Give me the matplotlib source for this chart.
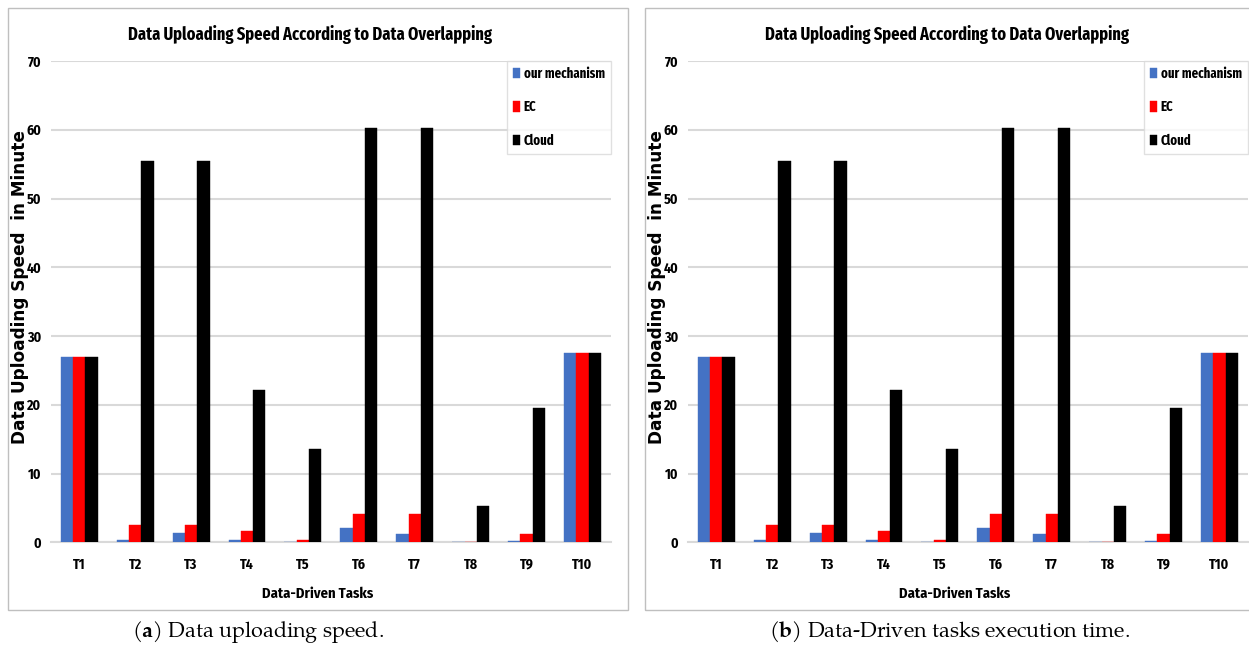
import matplotlib
matplotlib.use("Agg")
import matplotlib.pyplot as plt
import numpy as np
from matplotlib.patches import Rectangle

NARROW = ['Fira Sans Condensed', 'Carlito', 'DejaVu Sans']
XNARROW = ['Fira Sans Extra Condensed', 'Fira Sans Condensed', 'DejaVu Sans']
SERIF = ['TeX Gyre Pagella', 'Liberation Serif', 'DejaVu Serif']

plt.rcParams['mathtext.fontset'] = 'custom'
plt.rcParams['mathtext.rm'] = 'TeX Gyre Pagella'
plt.rcParams['mathtext.bf'] = 'TeX Gyre Pagella:bold'

tasks = ["T1", "T2", "T3", "T4", "T5", "T6", "T7", "T8", "T9", "T10"]
ours = [27.0, 0.3, 1.3, 0.4, 0.1, 2.1, 1.2, 0.05, 0.15, 27.6]
ec = [27.0, 2.5, 2.5, 1.7, 0.4, 4.1, 4.1, 0.05, 1.2, 27.6]
cloud = [27.0, 55.5, 55.5, 22.2, 13.6, 60.2, 60.2, 5.3, 19.5, 27.6]
series_names = ["our mechanism", "EC", "Cloud"]
colors = ["#4472C4", "#FF0000", "#000000"]
yticks = [0, 10, 20, 30, 40, 50, 60, 70]
title = "Data Uploading Speed According to Data Overlapping"
ylabel = "Data Uploading Speed  in Minute"
xlabel = "Data-Driven Tasks"
captions = [r"($\mathbf{a}$) Data uploading speed.",
            r"($\mathbf{b}$) Data-Driven tasks execution time."]
caption_x = [258, 950]

W, H = 1249, 653
fig = plt.figure(figsize=(W / 100, H / 100), dpi=100)

def px_axes(x0, y0, x1, y1):
    return fig.add_axes([x0 / W, 1 - y1 / H, (x1 - x0) / W, (y1 - y0) / H])

offsets = [0, 637]
for k, off in enumerate(offsets):
    fig.add_artist(Rectangle(((8 + off) / W, 1 - 610 / H), 620 / W, 602 / H,
                             transform=fig.transFigure, fill=False,
                             edgecolor="#bfbfbf", linewidth=1.0))
    ax = px_axes(51.3 + off, 61, 610.5 + off, 542.3)
    x = np.arange(len(tasks))
    w = 0.22
    data = [ours, ec, cloud]
    for i, (vals, c, nm) in enumerate(zip(data, colors, series_names)):
        ax.bar(x + (i - 1) * w, vals, width=w, color=c, label=nm,
               edgecolor=c, linewidth=0.3, zorder=3)
    ax.set_xlim(-0.5, len(tasks) - 0.5)
    ax.set_ylim(0, 70)
    ax.set_yticks(yticks)
    ax.set_xticks(x)
    ax.set_xticklabels(tasks)
    ax.grid(axis='y', color="#d9d9d9", linewidth=1.5, zorder=0)
    ax.set_axisbelow(True)
    for s in ["top", "right", "left"]:
        ax.spines[s].set_visible(False)
    ax.spines["bottom"].set_color("#d9d9d9")
    ax.spines["bottom"].set_linewidth(1.5)
    ax.tick_params(axis='both', length=0)
    ax.tick_params(axis='y', pad=7)
    ax.tick_params(axis='x', pad=11)
    for lab in ax.get_xticklabels() + ax.get_yticklabels():
        lab.set_family(NARROW)
        lab.set_fontweight('bold')
        lab.set_fontsize(10)
    fig.text((318 + off) / W, 1 - 594 / H, xlabel, ha='center', va='center',
             family=NARROW, fontweight='bold', fontsize=10.5)
    fig.text((20 + off) / W, 1 - 287.5 / H, ylabel, rotation=90,
             ha='center', va='center', family=['DejaVu Sans'],
             fontweight='bold', fontsize=12.2)
    fig.text((310.5 + off) / W, 1 - 35 / H, title, ha='center', va='center',
             family=XNARROW, fontweight='bold', fontsize=12.8)
    leg = ax.legend(loc='upper right', bbox_to_anchor=(1.0, 1.0), borderaxespad=0,
                    frameon=True, fancybox=False, edgecolor="#d9d9d9",
                    prop={'family': XNARROW, 'weight': 'bold', 'size': 10},
                    handlelength=0.5, handleheight=0.75, handletextpad=0.3,
                    labelspacing=1.4, borderpad=0.4)
    leg.get_frame().set_linewidth(1.0)
    fig.text(caption_x[k] / W, 1 - 632 / H, captions[k], ha='center', va='center',
             family=SERIF, fontsize=15.5)

fig.savefig("out.png", dpi=100)
